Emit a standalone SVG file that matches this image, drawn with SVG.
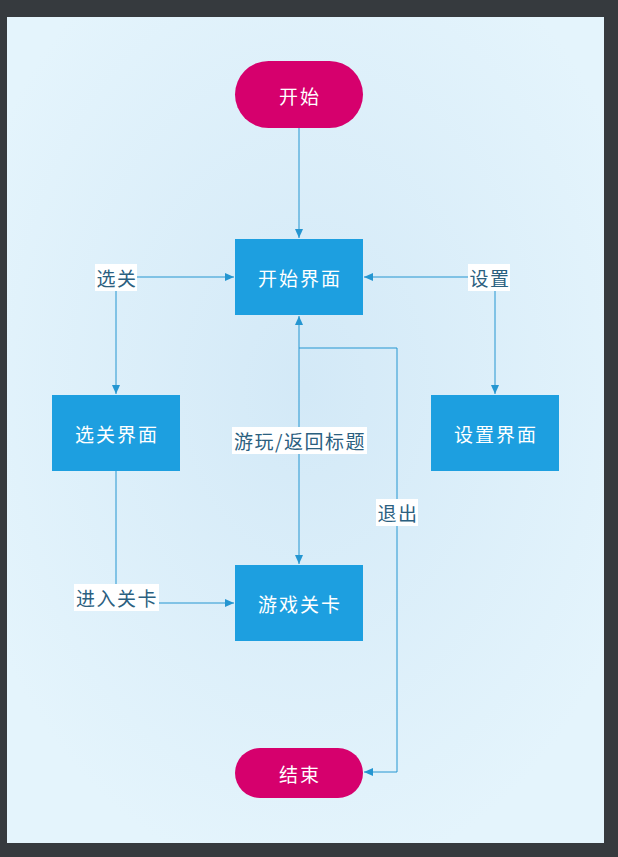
<svg xmlns="http://www.w3.org/2000/svg" width="618" height="857" viewBox="0 0 618 857">
<defs>
<radialGradient id="bg" cx="50%" cy="45%" r="60%">
<stop offset="0" stop-color="#d3e9f7"/>
<stop offset="1" stop-color="#e4f4fc"/>
</radialGradient>
<marker id="arr" markerWidth="10" markerHeight="10" refX="9" refY="5" orient="auto" markerUnits="userSpaceOnUse">
<path d="M0,1 L9,5 L0,9 Z" fill="#2596d1"/>
</marker>
<marker id="arrs" markerWidth="10" markerHeight="10" refX="9" refY="5" orient="auto-start-reverse" markerUnits="userSpaceOnUse">
<path d="M0,1 L9,5 L0,9 Z" fill="#2596d1"/>
</marker>
</defs>
<style>
.term{fill:#d6006d}
.box{fill:#1d9fe0}
.nt{font-family:"Noto Sans CJK SC","Noto Sans",sans-serif;font-size:19px;letter-spacing:2px;fill:#ffffff;text-anchor:middle;dominant-baseline:central}
.lbl{font-family:"Noto Sans CJK SC","Noto Sans",sans-serif;font-size:19px;letter-spacing:1.5px;fill:#2b607f;text-anchor:middle;dominant-baseline:central}
.lb{fill:#ffffff}
.ln{fill:none;stroke:#2596d1;stroke-width:1}
</style>
<rect x="0" y="0" width="618" height="857" fill="#363a3e"/>
<rect x="7" y="17" width="597" height="826" fill="url(#bg)"/>
<g id="connectors">
<path class="ln" d="M299,128 V238" marker-end="url(#arr)"/>
<path class="ln" d="M116,394 V277 H234" marker-start="url(#arrs)" marker-end="url(#arr)"/>
<path class="ln" d="M495,394 V277 H364" marker-start="url(#arrs)" marker-end="url(#arr)"/>
<path class="ln" d="M299,316 V564" marker-start="url(#arrs)" marker-end="url(#arr)"/>
<path class="ln" d="M299,348 H397 V772 H364" marker-end="url(#arr)"/>
<path class="ln" d="M116,471 V603 H234" marker-end="url(#arr)"/>
<g id="label-xuanguan"><rect class="lb" x="95" y="264" width="42" height="27"/><text class="lbl" x="117" y="277">选关</text></g>
<g id="label-shezhi"><rect class="lb" x="468" y="264" width="42" height="27"/><text class="lbl" x="490" y="277">设置</text></g>
<g id="label-youwan"><rect class="lb" x="232" y="427" width="135" height="27"/><text class="lbl" x="300" y="440">游玩/返回标题</text></g>
<g id="label-tuichu"><rect class="lb" x="376" y="499" width="42" height="27"/><text class="lbl" x="398" y="512">退出</text></g>
<g id="label-jinru"><rect class="lb" x="74" y="584" width="85" height="27"/><text class="lbl" x="117" y="597">进入关卡</text></g>
</g>
<g id="start"><rect class="term" x="235" y="61" width="128" height="67" rx="33.5"/><text class="nt" x="300" y="95">开始</text></g>
<g id="main"><rect class="box" x="235" y="239" width="128" height="76"/><text class="nt" x="300" y="277">开始界面</text></g>
<g id="select"><rect class="box" x="52" y="395" width="128" height="76"/><text class="nt" x="117" y="433">选关界面</text></g>
<g id="settings"><rect class="box" x="431" y="395" width="128" height="76"/><text class="nt" x="496" y="433">设置界面</text></g>
<g id="level"><rect class="box" x="235" y="565" width="128" height="76"/><text class="nt" x="300" y="603">游戏关卡</text></g>
<g id="end"><rect class="term" x="235" y="748" width="128" height="50" rx="25"/><text class="nt" x="300" y="773">结束</text></g>
</svg>
